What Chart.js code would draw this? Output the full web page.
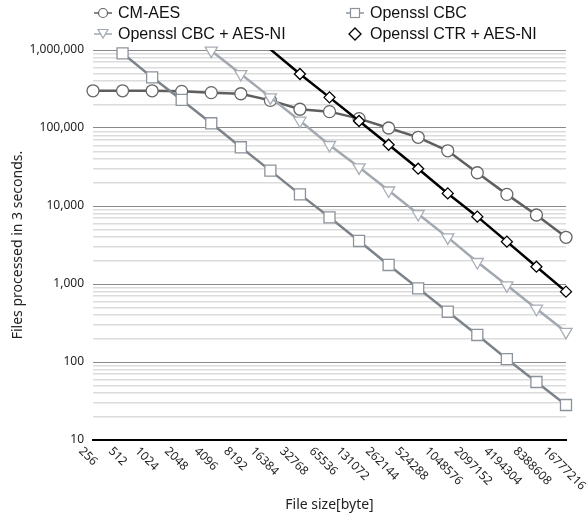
<!DOCTYPE html>
<html>
<head>
<meta charset="utf-8">
<script src="https://cdn.jsdelivr.net/npm/chart.js@4.4.1/dist/chart.umd.min.js"></script>
<style>
  html, body { margin: 0; padding: 0; background: #fff; }
  #wrap { position: relative; width: 587px; height: 516px; }
  #legend { position: absolute; left: 0; top: 0; width: 587px; height: 48px;
            font-family: "Liberation Sans", Arial, sans-serif; font-size: 16px; color: #111; }
  .item { position: absolute; display: flex; align-items: center; height: 20px; white-space: nowrap; }
  .item svg { margin-right: 6px; }
</style>
</head>
<body>
<div id="wrap">
  <canvas id="chart" width="587" height="516"></canvas>
  <div id="legend"></div>
</div>
<script>
// file sizes in bytes
const fileSizes = ["256","512","1024","2048","4096","8192","16384","32768","65536",
  "131072","262144","524288","1048576","2097152","4194304","8388608","16777216"];

const seriesNames = ["CM-AES", "Openssl CBC", "Openssl CBC + AES-NI", "Openssl CTR + AES-NI"];

// files processed in 3 seconds
const cmAes = [300000, 300000, 300000, 295000, 284000, 275000, 226000, 174000, 162000,
  132000, 100000, 76000, 51000, 26700, 14100, 7670, 3970];
const opensslCbc = [null, 906000, 446000, 229000, 115000, 56600, 28400, 14100, 7160,
  3560, 1754, 881, 441, 222, 109, 55.4, 28.1];
const opensslCbcNi = [null, null, null, null, 980000, 492000, 247000, 124000, 60500,
  31300, 15800, 7900, 3960, 1914, 962, 482, 243];
const opensslCtrNi = [null, null, null, null, null, null, 1020000, 492000, 247000,
  123000, 61000, 30100, 14500, 7300, 3490, 1667, 798];

const yTickLabels = [10, 100, 1000, 10000, 100000, 1000000];

const styles = [
  { line: "#5f5f5f", edge: "#666666", shape: "circle", r: 6, rot: 0 },
  { line: "#7d838b", edge: "#8d939b", shape: "rect", r: 7.8, rot: 0 },
  { line: "#a2a8b0", edge: "#a8aeb6", shape: "triangle", r: 7, rot: 180 },
  { line: "#000000", edge: "#000000", shape: "rectRot", r: 5.5, rot: 0 },
];

const allSeries = [cmAes, opensslCbc, opensslCbcNi, opensslCtrNi];

const datasets = allSeries.map((data, i) => ({
  label: seriesNames[i],
  data: data,
  borderColor: styles[i].line,
  borderWidth: 2.5,
  backgroundColor: "#ffffff",
  pointStyle: styles[i].shape,
  pointRotation: styles[i].rot,
  pointRadius: (c) => (c.raw > 1000000 ? 0 : styles[i].r),
  pointBorderColor: styles[i].edge,
  pointBorderWidth: 1.3,
  pointBackgroundColor: "#ffffff",
  tension: 0,
  spanGaps: false,
  clip: i === 3 ? { left: 10, right: 10, top: 0, bottom: 10 } : { left: 10, right: 10, top: 10, bottom: 10 },
  order: 4 - i,
}));

// x labels are drawn turned clockwise, starting at the tick
const xLabelPlugin = {
  id: "xLabels",
  afterDraw(chart) {
    const x = chart.scales.x;
    const ctx = chart.ctx;
    ctx.save();
    ctx.font = '12px "Noto Sans", sans-serif';
    ctx.fillStyle = "#222";
    ctx.textAlign = "left";
    ctx.textBaseline = "top";
    x.ticks.forEach((t, i) => {
      const txt = fileSizes[i];
      const px = x.getPixelForTick(i);
      const shift = Math.min(19, 3 * txt.length + 1);
      ctx.save();
      ctx.translate(px - shift + 2, chart.chartArea.bottom + 5);
      ctx.rotate(Math.PI / 4);
      ctx.fillText(txt, 0, 0);
      ctx.restore();
    });
    ctx.restore();
  }
};

const isDecade = (v) => yTickLabels.includes(v);

new Chart(document.getElementById("chart"), {
  type: "line",
  data: { labels: fileSizes, datasets: datasets },
  plugins: [xLabelPlugin],
  options: {
    responsive: false,
    animation: false,
    devicePixelRatio: 1,
    layout: { padding: { top: 50, right: 21, left: 0, bottom: 0 } },
    plugins: { legend: { display: false }, tooltip: { enabled: false } },
    scales: {
      x: {
        type: "category",
        offset: false,
        grid: { display: false },
        border: { display: true, color: "#000", width: 2 },
        ticks: { color: "rgba(0,0,0,0)", autoSkip: false, minRotation: 45, maxRotation: 45 },
        title: { display: true, text: "File size[byte]", color: "#222",
                 font: { family: "Noto Sans", size: 14 }, padding: { top: 0, bottom: 3 } },
        afterFit(s) { s.height = 76; }
      },
      y: {
        type: "logarithmic",
        min: 10,
        max: 1000000,
        border: { display: false },
        grid: {
          drawTicks: false,
          color: (c) => (c.tick.value === 10 ? "rgba(0,0,0,0)" : isDecade(c.tick.value) ? "#8a8a8a" : "#dcdcdc"),
          lineWidth: (c) => (isDecade(c.tick.value) ? 1 : 1.5),
        },
        afterBuildTicks(s) {
          const ticks = [];
          for (let e = 1; e <= 6; e++) {
            for (let m = 1; m <= 9; m++) {
              const v = m * Math.pow(10, e);
              if (v <= 1000000) ticks.push({ value: v });
            }
          }
          s.ticks = ticks;
        },
        ticks: {
          autoSkip: false,
          padding: 9,
          color: "#222",
          font: { family: "Noto Sans", size: 12 },
          callback: (v) => (isDecade(v) ? v.toLocaleString("en-US") : ""),
        },
        title: { display: true, text: "Files processed in 3 seconds.", color: "#222",
                 font: { family: "Noto Sans", size: 14 }, padding: { top: 10, bottom: 0 } },
        afterFit(s) { s.width = 93; }
      }
    }
  }
});

// legend: two columns, two rows
const legendPos = [
  { x: 103, y: 3 }, { x: 355, y: 3 }, { x: 103, y: 24 }, { x: 355, y: 24 }
];
const legendIcons = [
  '<line x1="0" y1="8" x2="18" y2="8" stroke="#5f5f5f" stroke-width="1.5"/><circle cx="9" cy="8" r="4.5" fill="#fff" stroke="#666" stroke-width="1.2"/>',
  '<line x1="0" y1="8" x2="18" y2="8" stroke="#8d939b" stroke-width="1.5"/><rect x="4.5" y="3.5" width="9" height="9" fill="#fff" stroke="#8d939b" stroke-width="1.2"/>',
  '<line x1="0" y1="8" x2="18" y2="8" stroke="#a2a8b0" stroke-width="1.5"/><polygon points="4,3.5 14,3.5 9,12" fill="#fff" stroke="#a2a8b0" stroke-width="1.2"/>',
  '<polygon points="9,2 15,8 9,14 3,8" fill="#fff" stroke="#000" stroke-width="1.3"/>',
];
const legendEl = document.getElementById("legend");
seriesNames.forEach((name, i) => {
  const d = document.createElement("div");
  d.className = "item";
  d.style.left = (legendPos[i].x - 9) + "px";
  d.style.top = legendPos[i].y + "px";
  d.innerHTML = `<svg width="18" height="16">${legendIcons[i]}</svg><span>${name}</span>`;
  legendEl.appendChild(d);
});
</script>
</body>
</html>
